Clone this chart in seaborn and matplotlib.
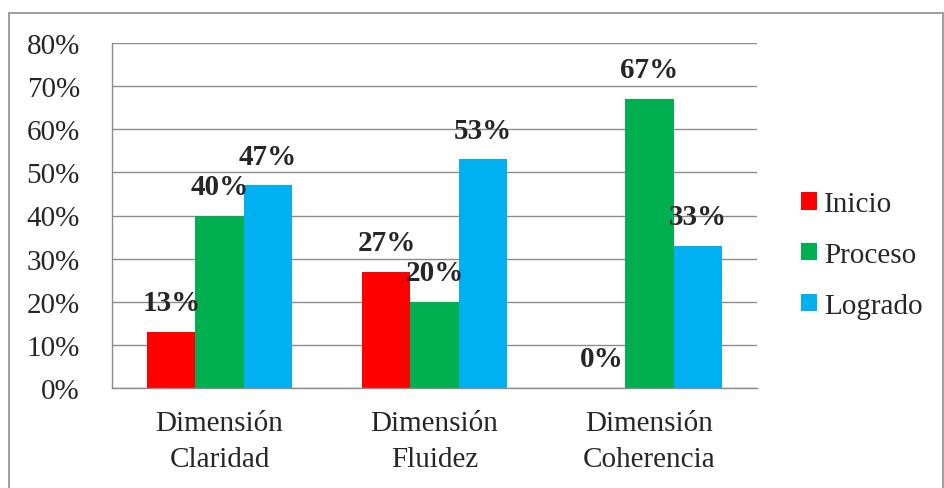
import matplotlib
matplotlib.use("Agg")
import matplotlib.pyplot as plt
import seaborn as sns
import pandas as pd
from matplotlib.patches import Rectangle

categories = ["Dimensión\nClaridad", "Dimensión\nFluidez", "Dimensión\nCoherencia"]
levels = ["Inicio", "Proceso", "Logrado"]
inicio = [13, 27, 0]
proceso = [40, 20, 67]
logrado = [47, 53, 33]
yticks = [0, 10, 20, 30, 40, 50, 60, 70, 80]
colors = ["#FF0000", "#00B050", "#00B0F0"]

df = pd.DataFrame({
    "Dimension": categories * 3,
    "Nivel": [lv for lv in levels for _ in categories],
    "Valor": inicio + proceso + logrado,
})

sns.set_style("white")
plt.rcParams["font.family"] = ["Liberation Serif", "DejaVu Serif"]

fig = plt.figure(figsize=(9.45, 4.89), dpi=100)
ax = fig.add_axes([112 / 945, 100 / 489, 645 / 945, 345 / 489])

sns.barplot(data=df, x="Dimension", y="Valor", hue="Nivel", order=categories,
            hue_order=levels, palette=colors, width=0.67, gap=0,
            saturation=1, linewidth=0, ax=ax, legend=True)

# value labels above each bar
for cont in ax.containers:
    for bar in cont:
        h = bar.get_height()
        ax.annotate(f"{h:.0f}%", (bar.get_x() + bar.get_width() / 2, h),
                    xytext=(0, 21), textcoords="offset points",
                    ha="center", va="center", fontsize=21, fontweight="bold")

ax.set_ylim(0, 80)
ax.set_xlim(-0.5, 2.5)
ax.set_yticks(yticks)
ax.set_yticklabels([f"{t}%" for t in yticks], fontsize=21)
ax.yaxis.grid(True, color="#8C8C8C", linewidth=1.0)
ax.set_axisbelow(True)

ax.set_xticks([-0.5, 0.5, 1.5, 2.5])
ax.set_xticklabels([])
ax.set_xticks([0, 1, 2], categories, minor=True, fontsize=21, linespacing=1.5)
ax.tick_params(axis="x", which="major", direction="out", length=7, color="#8C8C8C", width=1)
ax.tick_params(axis="x", which="minor", length=0, pad=16)
ax.tick_params(axis="y", direction="out", length=7, color="#8C8C8C", width=1, pad=16)
ax.set_xlabel("")
ax.set_ylabel("")

for s in ["top", "right"]:
    ax.spines[s].set_visible(False)
for s in ["left", "bottom"]:
    ax.spines[s].set_color("#8C8C8C")
    ax.spines[s].set_linewidth(1.0)

handles, labels = ax.get_legend_handles_labels()
ax.legend(handles, labels, loc="center left", bbox_to_anchor=(801 / 945, (489 - 256) / 489),
          bbox_transform=fig.transFigure, frameon=False, fontsize=21,
          handlelength=0.55, handleheight=0.55, handletextpad=0.25,
          labelspacing=0.85, borderpad=0, borderaxespad=0)

fig.patches.append(Rectangle((9.5 / 945, -0.01), 934 / 945, (489 - 13.5) / 489 + 0.01,
                             transform=fig.transFigure, fill=False,
                             edgecolor="#8C8C8C", linewidth=1.2))

fig.savefig("out.png", dpi=100)
